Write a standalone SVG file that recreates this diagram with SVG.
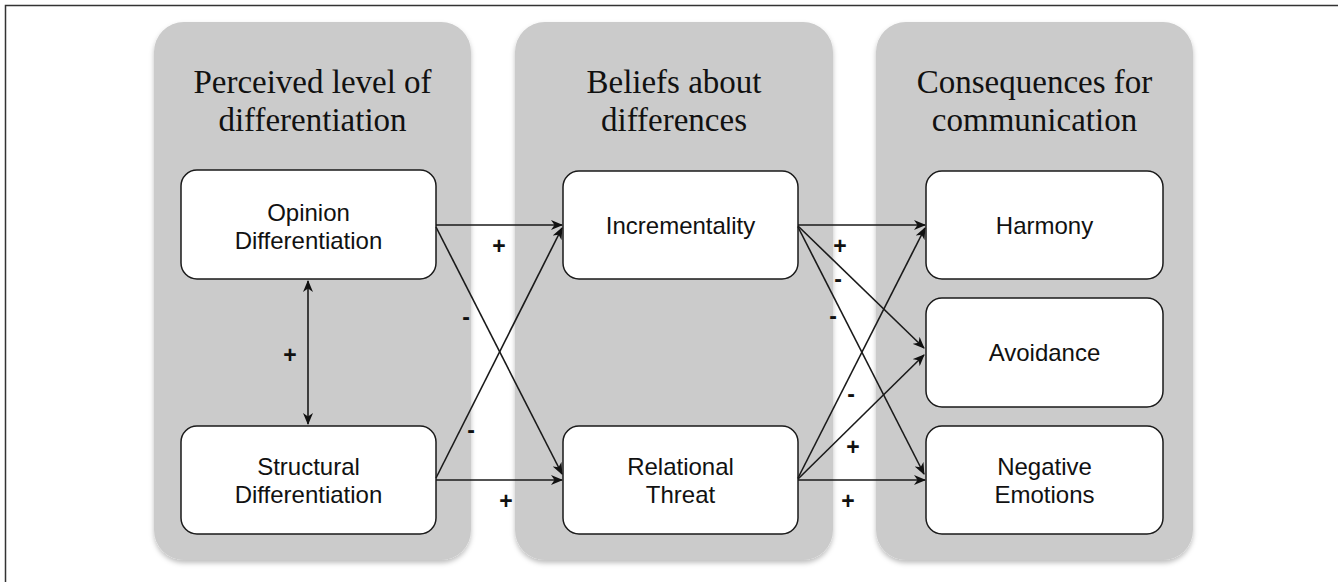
<svg xmlns="http://www.w3.org/2000/svg" width="1338" height="582" viewBox="0 0 1338 582">
<style>
.panel{fill:#cbcbcb;filter:url(#sh)}
.node{fill:#ffffff;stroke:#1a1a1a;stroke-width:1.5}
.head{font-family:"Liberation Serif","Times New Roman",serif;font-size:33px;fill:#111;text-anchor:middle}
.lbl{font-family:"Liberation Sans",Arial,sans-serif;font-size:24px;fill:#111;text-anchor:middle}
.sg{font-family:"Liberation Sans",Arial,sans-serif;font-size:23px;font-weight:bold;fill:#111;text-anchor:middle}
.c{stroke:#1a1a1a;stroke-width:1.6;fill:none;marker-end:url(#ah)}
</style>
<defs>
<filter id="sh" x="-10%" y="-10%" width="120%" height="120%">
<feDropShadow dx="0" dy="3" stdDeviation="2.5" flood-color="#000" flood-opacity="0.25"/>
</filter>
<marker id="ah" viewBox="0 0 12 10" refX="11" refY="5" markerWidth="12" markerHeight="10" markerUnits="userSpaceOnUse" orient="auto-start-reverse">
<path d="M0,0 L12,5 L0,10 L3.5,5 z" fill="#111"/>
</marker>
</defs>
<rect x="5.5" y="5.5" width="1345" height="590" fill="#fff" stroke="#333" stroke-width="1.5"/>
<g id="panel-perceived">
<rect class="panel" x="154" y="22" width="317" height="538" rx="30"/>
<text class="head" x="312.5" y="93">Perceived level of</text>
<text class="head" x="312.5" y="131">differentiation</text>
</g>
<g id="panel-beliefs">
<rect class="panel" x="515" y="22" width="318" height="538" rx="30"/>
<text class="head" x="674" y="93">Beliefs about</text>
<text class="head" x="674" y="131">differences</text>
</g>
<g id="panel-consequences">
<rect class="panel" x="876" y="22" width="317" height="538" rx="30"/>
<text class="head" x="1034.5" y="93">Consequences for</text>
<text class="head" x="1034.5" y="131">communication</text>
</g>
<g id="node-opinion">
<rect class="node" x="181" y="170" width="255" height="109" rx="16"/>
<text class="lbl" x="308.5" y="221">Opinion</text>
<text class="lbl" x="308.5" y="249">Differentiation</text>
</g>
<g id="node-structural">
<rect class="node" x="181" y="426" width="255" height="108" rx="16"/>
<text class="lbl" x="308.5" y="475">Structural</text>
<text class="lbl" x="308.5" y="503">Differentiation</text>
</g>
<g id="node-incrementality">
<rect class="node" x="563" y="171" width="235" height="108" rx="16"/>
<text class="lbl" x="680.5" y="234">Incrementality</text>
</g>
<g id="node-relational">
<rect class="node" x="563" y="426" width="235" height="108" rx="16"/>
<text class="lbl" x="680.5" y="475">Relational</text>
<text class="lbl" x="680.5" y="503">Threat</text>
</g>
<g id="node-harmony">
<rect class="node" x="926" y="171" width="237" height="108" rx="16"/>
<text class="lbl" x="1044.5" y="234">Harmony</text>
</g>
<g id="node-avoidance">
<rect class="node" x="926" y="298" width="237" height="109" rx="16"/>
<text class="lbl" x="1044.5" y="361">Avoidance</text>
</g>
<g id="node-negative">
<rect class="node" x="926" y="426" width="237" height="108" rx="16"/>
<text class="lbl" x="1044.5" y="475">Negative</text>
<text class="lbl" x="1044.5" y="503">Emotions</text>
</g>
<g id="connectors">
<path class="c" d="M308,281 L308,424" marker-start="url(#ah)"/>
<path class="c" d="M436,225 L562,225"/>
<path class="c" d="M436,227 L562,474"/>
<path class="c" d="M436,478 L562,228"/>
<path class="c" d="M436,480 L562,480"/>
<path class="c" d="M798,225 L925,225"/>
<path class="c" d="M798,226 L924,348"/>
<path class="c" d="M798,227 L924,474"/>
<path class="c" d="M798,478 L925,228"/>
<path class="c" d="M798,479 L924,355"/>
<path class="c" d="M798,480 L925,480"/>
</g>
<g id="signs">
<text class="sg" x="290" y="363">+</text>
<text class="sg" x="499" y="254">+</text>
<text class="sg" x="466" y="325">-</text>
<text class="sg" x="471" y="438">-</text>
<text class="sg" x="506" y="509">+</text>
<text class="sg" x="840" y="254">+</text>
<text class="sg" x="838" y="287">-</text>
<text class="sg" x="833" y="324">-</text>
<text class="sg" x="851" y="402">-</text>
<text class="sg" x="853" y="455">+</text>
<text class="sg" x="848" y="509">+</text>
</g>
</svg>
